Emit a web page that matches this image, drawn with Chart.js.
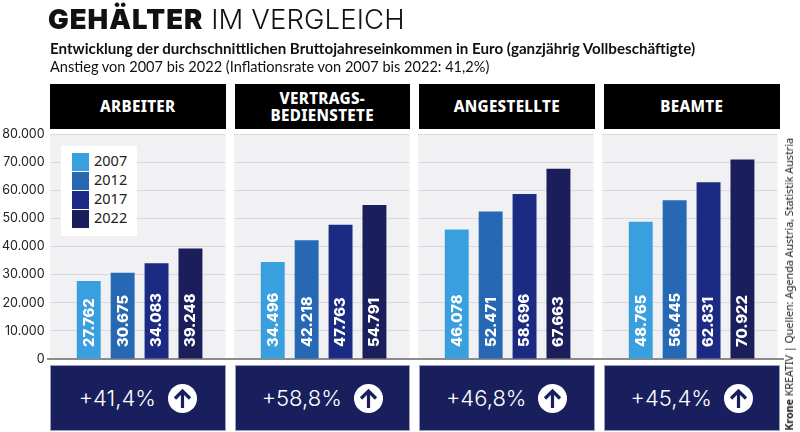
<!DOCTYPE html>
<html><head><meta charset="utf-8">
<script src="https://cdn.jsdelivr.net/npm/chart.js@4"></script>
<style>
html,body{margin:0;padding:0;background:#fff;width:800px;height:432px;overflow:hidden}
#wrap{position:relative;width:800px;height:432px}
canvas{position:absolute;left:0;top:0}
.t{position:absolute;white-space:nowrap}
#title{left:48px;top:2px;font:300 27.5px/34px Inter,sans-serif;color:#111;letter-spacing:.12px}
#title b{font-weight:900;font-size:27.5px;letter-spacing:1px}
#sub1{left:50px;top:38px;font:700 15.15px/20px Lato,sans-serif;color:#111}
#sub2{left:50px;top:57px;font:400 14.55px/20px Lato,sans-serif;color:#111}
.head{position:absolute;top:84px;height:45px;background:#000;color:#fff;display:flex;align-items:center;justify-content:center;text-align:center;font:800 15.2px/17px "Noto Sans",sans-serif;letter-spacing:.3px}
.foot{position:absolute;top:365px;height:66px;background:#191f5c;border:1px solid #9aa0c0;box-sizing:border-box;color:#fff;display:flex;align-items:center;justify-content:center;font:300 22px Inter,sans-serif}
.foot svg{margin-left:12px}
#legend{position:absolute;left:61px;top:146px;width:76px;height:90px;background:#fff}
.li{position:absolute;left:11px;font:400 14.5px/14px "Noto Sans",sans-serif;color:#222;padding-left:22px;height:18px}
.li i{position:absolute;left:0;top:0;width:17px;height:18px}
#src{position:absolute;left:782px;bottom:1px;writing-mode:vertical-rl;transform:rotate(180deg);font:400 10.7px/14px "Noto Sans",sans-serif;color:#222;white-space:nowrap}
</style></head><body>
<div id="wrap">
<canvas id="c" width="800" height="432"></canvas>
</div>
<script>
const categories=["ARBEITER","VERTRAGS-<br>BEDIENSTETE","ANGESTELLTE","BEAMTE"];
const years=["2007","2012","2017","2022"];
const colors=["#3a9fdf","#2668b4","#1b2a83","#1a1f5c"];
const v2007=[27762,34496,46078,48765];
const v2012=[30675,42218,52471,56445];
const v2017=[34083,47763,58696,62831];
const v2022=[39248,54791,67663,70922];
const rises=["+41,4%","+58,8%","+46,8%","+45,4%"];
const series=[v2007,v2012,v2017,v2022];
const fmt=n=>String(n).replace(/\B(?=(\d{3})+$)/g,".");
const panelOffset=-89.5, panelWidth=175.5;

const panels={id:"panels",
 beforeDraw(ch){const {ctx,chartArea:a,scales:{x}}=ch;ctx.save();ctx.fillStyle="#f1f1f4";
  categories.forEach((c,i)=>{const l=x.getPixelForValue(i)+panelOffset;ctx.fillRect(l,a.top,panelWidth,a.bottom-a.top);});ctx.restore();},
 beforeDatasetsDraw(ch){const {ctx,chartArea:a,scales:{x}}=ch;ctx.save();ctx.fillStyle="#fff";
  let prev=a.left;
  categories.forEach((c,i)=>{const l=x.getPixelForValue(i)+panelOffset;ctx.fillRect(prev,a.top-1,l-prev,a.bottom-a.top);prev=l+panelWidth;});
  ctx.fillRect(prev,a.top-1,a.right-prev+1,a.bottom-a.top);ctx.restore();}
};
const barLabels={id:"barLabels",
 afterDatasetsDraw(ch){const {ctx,scales:{y}}=ch;ctx.save();ctx.fillStyle="#fff";ctx.font='800 14.8px Inter,sans-serif';ctx.textBaseline="middle";ctx.textAlign="left";
  ch.data.datasets.forEach((ds,d)=>{ch.getDatasetMeta(d).data.forEach((bar,i)=>{ctx.save();ctx.translate(bar.x,y.getPixelForValue(0)-12);ctx.rotate(-Math.PI/2);ctx.fillText(fmt(ds.data[i]),0,0.5);ctx.restore();});});
  ctx.restore();}
};
new Chart(document.getElementById("c"),{type:"bar",
 data:{labels:categories,datasets:series.map((s,i)=>({label:years[i],data:s,backgroundColor:colors[i],categoryPercentage:.737,barPercentage:.706}))},
 plugins:[panels,barLabels],
 options:{responsive:false,animation:false,devicePixelRatio:1,
  layout:{padding:{top:134,right:16.4,bottom:65,left:0}},
  plugins:{legend:{display:false},tooltip:{enabled:false},title:{display:false}},
  scales:{
   x:{ticks:{display:false},grid:{display:false},border:{color:"#8c8c8c",width:2}},
   y:{min:0,max:80000,afterFit(s){s.width=47.6;},
      ticks:{stepSize:10000,padding:3,color:"#222",font:{family:"Inter,sans-serif",size:12.5,weight:"400"},callback:v=>fmt(v)},
      grid:{color:"#d9d9dd",lineWidth:1,drawTicks:false},border:{display:false}}
  }}});
const w=document.getElementById("wrap");
const add=(html,cls,id,st)=>{const e=document.createElement("div");if(cls)e.className=cls;if(id)e.id=id;e.innerHTML=html;if(st)e.style.cssText=st;w.appendChild(e);return e;};
add("<b>GEHÄLTER</b> IM VERGLEICH","t","title");
add("Entwicklung der durchschnittlichen Bruttojahreseinkommen in Euro (ganzjährig Vollbeschäftigte)","t","sub1");
add("Anstieg von 2007 bis 2022 (Inflationsrate von 2007 bis 2022: 41,2%)","t","sub2");
const lefts=[50,234.5,419,604];
const arrow='<svg width="29" height="29" viewBox="0 0 29 29"><circle cx="14.5" cy="14.5" r="14.5" fill="#fff"/><path d="M14.5 24V7M7 14.5l7.5-7.5 7.5 7.5" fill="none" stroke="#191f5c" stroke-width="3.2"/></svg>';
categories.forEach((c,i)=>{
 add(c,"head",null,`left:${lefts[i]}px;width:${panelWidth}px`);
 add(rises[i]+arrow,"foot",null,`left:${lefts[i]}px;width:${panelWidth}px`);
});
const lg=add("",null,"legend");
years.forEach((y,i)=>{const d=document.createElement("div");d.className="li";d.style.top=(7+i*19)+"px";d.innerHTML=`<i style="background:${colors[i]}"></i>${y}`;lg.appendChild(d);});
add("<b>Krone</b> KREATIV | Quellen: Agenda Austria, Statistik Austria",null,"src");
</script>
</body></html>
